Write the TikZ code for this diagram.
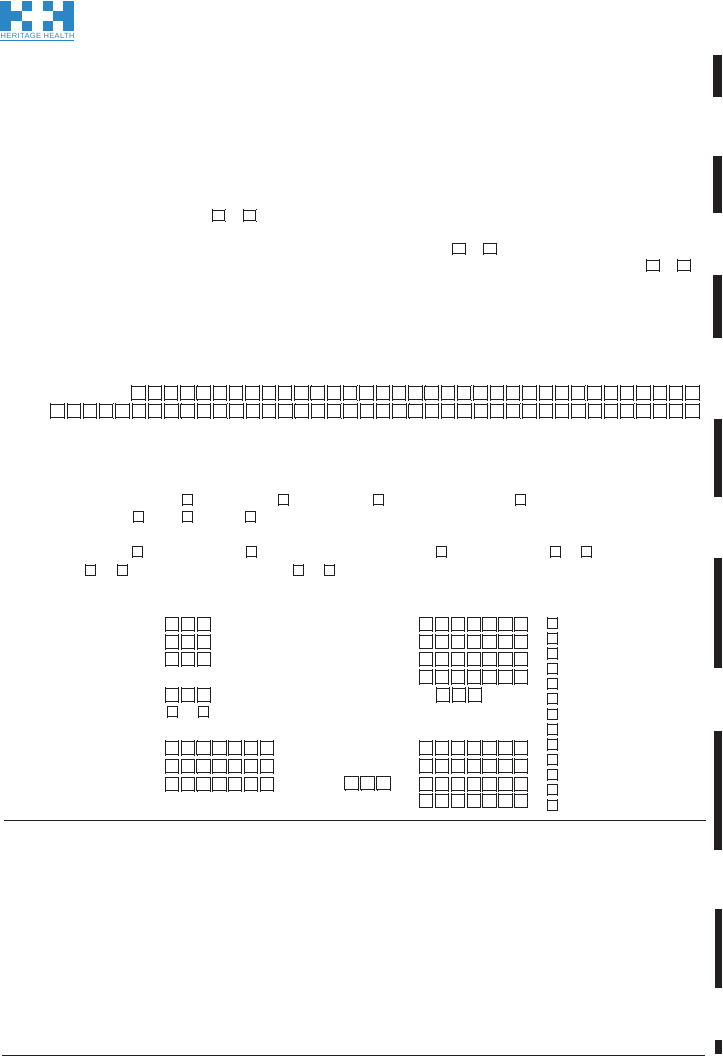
\documentclass[tikz,border=0pt]{standalone}
\usepackage{fontspec}
\setmainfont{Liberation Sans}
\definecolor{ink}{HTML}{231F20}
\definecolor{logoblue}{HTML}{2B86C5}
\tikzset{
  x=1pt,y=-1pt,
  boxline/.style={draw=ink,line width=0.9pt,line cap=butt},
  tick/.style={draw=ink,line width=0.7pt,line cap=butt},
  bar/.style={fill=ink,draw=none},
  rule/.style={draw=ink,line width=1pt},
  logo/.style={fill=logoblue,draw=none}
}
% a box at x,y with width w, height h; its sides overshoot a little at the corners
\newcommand{\cbox}[4]{%
  \draw[boxline] (#1,#2) rectangle ++(#3,#4);
  \draw[tick] (#1,#2-0.9) -- ++(0,0.5) (#1,#2+#4+0.4) -- ++(0,0.5);
  \draw[tick] (#1+#3,#2-0.9) -- ++(0,0.5) (#1+#3,#2+#4+0.4) -- ++(0,0.5);
}
% row: x,y,count,pitch,w,h
\newcommand{\crow}[6]{%
  \pgfmathsetmacro{\lastidx}{int(#3-1)}%
  \foreach \i in {0,...,\lastidx}{%
    \pgfmathsetmacro{\xx}{#1+\i*#4}%
    \cbox{\xx}{#2}{#5}{#6}%
  }%
}
\begin{document}
\begin{tikzpicture}
\useasboundingbox (0,0) rectangle (722,1056);
\fill[white] (0,0) rectangle (722,1056);
% logo
\fill[logo] (0,1.5) rectangle (10.7,31);
\fill[logo] (10.7,11.5) rectangle (21.7,21.5);
\fill[logo] (21.7,1.5) rectangle (32.3,11.5);
\fill[logo] (21.7,21.5) rectangle (32.3,31);
\fill[logo] (42.7,1.5) rectangle (52.7,11.5);
\fill[logo] (42.7,21.5) rectangle (52.7,31);
\fill[logo] (52.7,11.5) rectangle (63.3,21.5);
\fill[logo] (63.3,1.5) rectangle (73.5,31);
\node[anchor=west,inner sep=0pt,text=logoblue] (logotext) at (0.5,36.4)
  {\fontsize{7.5pt}{8pt}\selectfont\addfontfeature{LetterSpace=5}HERITAGE HEALTH};
\fill[logo] (0,40.5) rectangle (73.5,41.5);
% side bars
\fill[bar] (713,55) rectangle (722,97);
\fill[bar] (713,155.7) rectangle (722,213);
\fill[bar] (713,275) rectangle (722,338);
\fill[bar] (714,419) rectangle (722,497);
\fill[bar] (714,558) rectangle (722,668);
\fill[bar] (714,731) rectangle (722,850);
\fill[bar] (715,909) rectangle (722,988);
\fill[bar] (715,1040) rectangle (722,1054);
% rules
\draw[rule] (4,820.3) -- (705.7,820.3);
\draw[rule] (2,1055.5) -- (705,1055.5);
% top small boxes
\cbox{212.3}{210.3}{12.6}{10}
\cbox{243.3}{210.3}{12.6}{10}
\cbox{452.7}{243.5}{12.6}{10}
\cbox{483.5}{243.5}{12.6}{10}
\cbox{646.7}{260.2}{12.6}{10}
\cbox{677.7}{260.2}{12.6}{10}
% long rows
\crow{131.7}{386}{35}{16.29}{13.4}{13.5}
\crow{50.7}{404}{40}{16.28}{13.4}{13.5}
% small single boxes
\cbox{182}{494.8}{10}{10}
\cbox{278.3}{494.8}{10}{10}
\cbox{373.4}{494.8}{10}{10}
\cbox{515.7}{494.8}{10}{10}
\cbox{133.4}{511.4}{10}{10}
\cbox{182.4}{511.4}{10}{10}
\cbox{245.4}{511.4}{10}{10}
\cbox{132.7}{546.4}{10}{10}
\cbox{246.4}{546.4}{10}{10}
\cbox{436.7}{546.4}{10}{10}
\cbox{550.4}{546.4}{10}{10}
\cbox{581.4}{546.4}{10}{10}
\cbox{85.7}{565}{10}{10}
\cbox{117.4}{565}{10}{10}
\cbox{293.7}{565}{10}{10}
\cbox{324.4}{565}{10}{10}
% left block
\crow{165.2}{617.7}{3}{15.9}{13.3}{13}
\crow{165.2}{635.3}{3}{15.9}{13.3}{13}
\crow{165.2}{652.7}{3}{15.9}{13.3}{13}
\crow{165.2}{688.3}{3}{15.9}{13.3}{13}
\cbox{167.3}{706.7}{10}{10}
\cbox{198.3}{706.7}{10}{10}
\crow{165.2}{741.3}{7}{15.83}{13.3}{13}
\crow{165.2}{759.5}{7}{15.83}{13.3}{13}
\crow{165.2}{777.7}{7}{15.83}{13.3}{13}
\crow{344.9}{776.5}{3}{16}{13.3}{13}
% right block
\crow{419.5}{617.5}{7}{15.83}{13.3}{13}
\crow{419.5}{635}{7}{15.83}{13.3}{13}
\crow{419.5}{652.7}{7}{15.83}{13.3}{13}
\crow{419.5}{670.3}{7}{15.83}{13.3}{13}
\crow{436.2}{688.3}{3}{16}{13.3}{13}
\crow{419.5}{741.3}{7}{15.83}{13.3}{13}
\crow{419.5}{759.3}{7}{15.83}{13.3}{13}
\crow{419.5}{777.7}{7}{15.83}{13.3}{13}
\crow{419.5}{794}{7}{15.83}{13.3}{13}
% column
\foreach \j in {0,...,12}{%
  \pgfmathsetmacro{\yy}{618+\j*15.17}%
  \cbox{547.4}{\yy}{10}{10}%
}
\end{tikzpicture}
\end{document}
